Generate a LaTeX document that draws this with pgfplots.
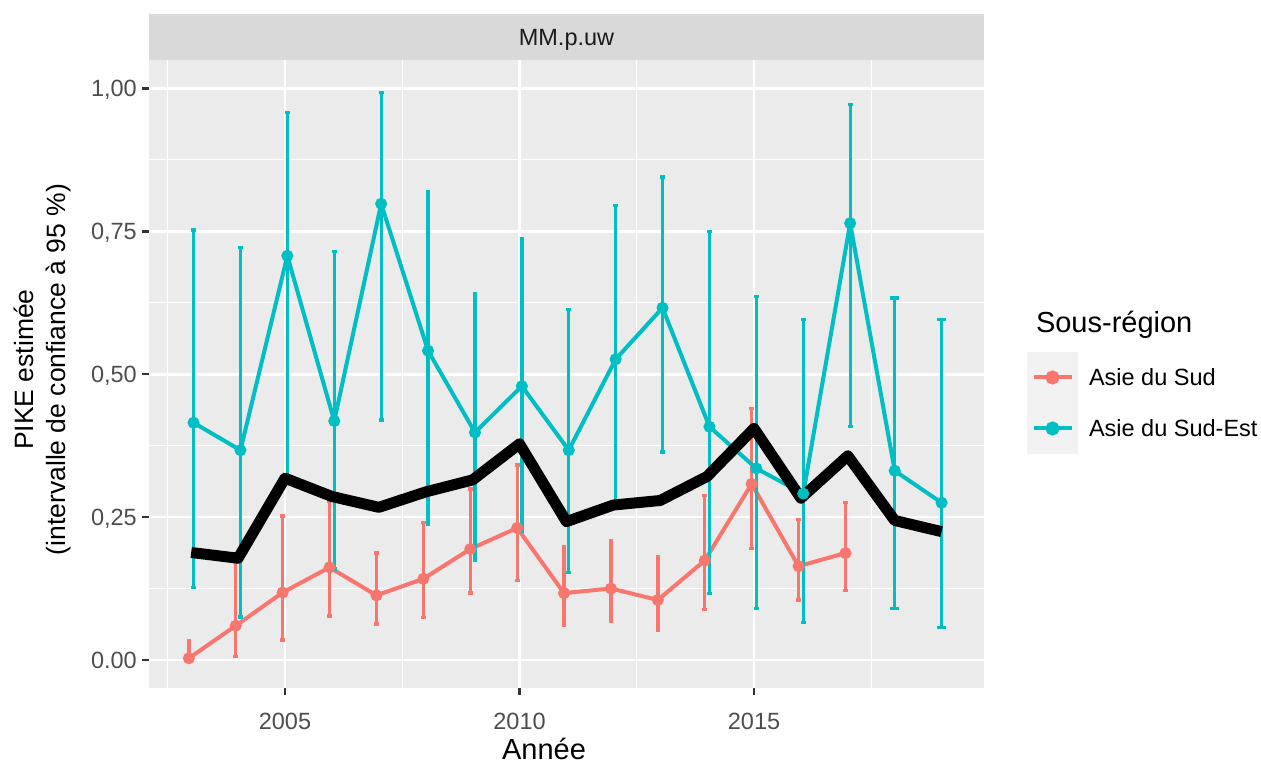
\documentclass[border=0pt]{standalone}
\usepackage{pgfplots}
\pgfplotsset{compat=1.18}
\usepackage{pgfplotstable}
\usepackage{fontspec}
\setmainfont{Liberation Sans}

\definecolor{panelbg}{HTML}{EBEBEB}
\definecolor{stripbg}{HTML}{D9D9D9}
\definecolor{striptext}{HTML}{1A1A1A}
\definecolor{ticklab}{HTML}{4D4D4D}
\definecolor{tickcol}{HTML}{333333}
\definecolor{keybg}{HTML}{F2F2F2}
\definecolor{sudcol}{HTML}{F8766D}
\definecolor{estcol}{HTML}{00BFC4}

% Asie du Sud (dodged -0.05)
\pgfplotstableread{
x y lo hi
2002.95 0.003 0.000 0.033
2003.95 0.060 0.006 0.170
2004.95 0.118 0.035 0.252
2005.95 0.162 0.077 0.278
2006.95 0.113 0.063 0.187
2007.95 0.142 0.074 0.240
2008.95 0.194 0.117 0.299
2009.95 0.231 0.139 0.341
2010.95 0.117 0.061 0.198
2011.95 0.125 0.067 0.209
2012.95 0.105 0.051 0.180
2013.95 0.174 0.088 0.288
2014.95 0.308 0.195 0.440
2015.95 0.164 0.105 0.246
2016.95 0.187 0.122 0.275
}\sud

% Asie du Sud-Est (dodged +0.05 where both series exist)
\pgfplotstableread{
x y lo hi
2003.05 0.415 0.127 0.752
2004.05 0.367 0.075 0.722
2005.05 0.707 0.320 0.958
2006.05 0.418 0.159 0.715
2007.05 0.798 0.420 0.993
2008.05 0.541 0.237 0.820
2009.05 0.398 0.175 0.641
2010.05 0.479 0.225 0.737
2011.05 0.367 0.153 0.613
2012.05 0.526 0.275 0.795
2013.05 0.616 0.364 0.845
2014.05 0.408 0.116 0.750
2015.05 0.335 0.090 0.636
2016.05 0.291 0.066 0.595
2017.05 0.764 0.409 0.972
2018 0.331 0.090 0.633
2019 0.275 0.057 0.596
}\sudest

% Overall PIKE (black line)
\pgfplotstableread{
x y
2003 0.188
2004 0.178
2005 0.318
2006 0.286
2007 0.267
2008 0.294
2009 0.315
2010 0.378
2011 0.242
2012 0.271
2013 0.279
2014 0.321
2015 0.405
2016 0.283
2017 0.357
2018 0.244
2019 0.2245
}\total

\begin{document}
\begin{tikzpicture}
\useasboundingbox (-149pt,-77pt) rectangle (1112pt,688pt);
\begin{axis}[
  at={(0pt,0pt)}, anchor=south west,
  scale only axis, width=835pt, height=628pt,
  xmin=2002.1, xmax=2019.904, ymin=-0.049, ymax=1.0495,
  axis background/.style={fill=panelbg},
  axis x line*=bottom, axis y line*=left,
  axis line style={draw=none},
  xtick={2005,2010,2015}, xticklabels={2005,2010,2015},
  ytick={0,0.25,0.5,0.75,1}, yticklabels={0.00,{0,25},{0,50},{0,75},{1,00}},
  minor xtick={2002.5,2007.5,2012.5,2017.5},
  minor ytick={0.125,0.375,0.625,0.875},
  grid=both,
  major grid style={white, line width=2.8pt},
  minor grid style={white, line width=1.4pt},
  tick align=outside, major tick length=7pt, minor tick length=0pt,
  every tick/.style={tickcol, line width=2.6pt},
  ticklabel style={font=\fontsize{23.5}{28}\selectfont, text=ticklab},
  xticklabel style={anchor=base, inner sep=0pt, yshift=-35pt},
  yticklabel style={anchor=base east, inner sep=0pt, xshift=-5pt, yshift=-8.4pt},
  xlabel={Année},
  xlabel style={at={(axis description cs:0.473,-0.1146)}, anchor=base, inner sep=0pt, font=\fontsize{29}{34}\selectfont},
  ylabel={PIKE estimée\\(intervalle de confiance à 95 \%)},
  ylabel style={at={(axis description cs:-0.127,0.507)}, anchor=center, align=center, inner sep=0pt, font=\fontsize{26.5}{32}\selectfont},
  title={MM.p.uw},
  every axis title shift=0pt,
  title style={at={(axis description cs:0.5,1)}, anchor=south, yshift=0pt, fill=stripbg, minimum width=835pt, minimum height=46pt, inner sep=0pt, outer sep=0pt, text=striptext, text height=16.8pt, text depth=0pt, font=\fontsize{23.5}{28}\selectfont},
  legend style={at={(axis description cs:1.0515,0.3726)}, anchor=south west, draw=none, fill=none, inner sep=0pt, outer sep=0pt, row sep=0pt, column sep=11pt, font=\fontsize{23.5}{28}\selectfont, nodes={inner sep=0pt, anchor=base west}},
  legend cell align=left,
]
\addlegendimage{empty legend}
\addlegendentry{\hspace*{-53pt}\raisebox{18pt}[0pt][0pt]{\fontsize{29}{34}\selectfont Sous-région}}

\addplot[sudcol, line width=4pt, mark=*, mark size=5pt, mark options={solid, line width=2pt, fill=sudcol},
  legend image code/.code={
    \fill[keybg] (0pt,-15.1pt) rectangle (47pt,31.9pt);
    \draw[sudcol, line width=4pt] (4.5pt,8.4pt) -- (42.5pt,8.4pt);
    \fill[sudcol] (23.5pt,8.4pt) circle (5pt);
  },
  error bars/.cd, y dir=both, y explicit,
  error bar style={sudcol, line width=3.3pt, solid},
  error mark options={sudcol, line width=3.3pt, mark size=2.35pt, rotate=90}]
  table[x=x, y=y, y error plus expr=\thisrow{hi}-\thisrow{y}, y error minus expr=\thisrow{y}-\thisrow{lo}] {\sud};
\addlegendentry{Asie du Sud}

\addplot[estcol, only marks, mark=none, forget plot, restrict x to domain=2003:2017.5,
  error bars/.cd, y dir=both, y explicit,
  error bar style={estcol, line width=3.3pt, solid},
  error mark options={estcol, line width=3.3pt, mark size=2.35pt, rotate=90}]
  table[x=x, y=y, y error plus expr=\thisrow{hi}-\thisrow{y}, y error minus expr=\thisrow{y}-\thisrow{lo}] {\sudest};
\addplot[estcol, only marks, mark=none, forget plot, restrict x to domain=2017.8:2019.2,
  error bars/.cd, y dir=both, y explicit,
  error bar style={estcol, line width=3.3pt, solid},
  error mark options={estcol, line width=3.3pt, mark size=4.7pt, rotate=90}]
  table[x=x, y=y, y error plus expr=\thisrow{hi}-\thisrow{y}, y error minus expr=\thisrow{y}-\thisrow{lo}] {\sudest};

\addplot[estcol, line width=4pt, mark=*, mark size=5pt, mark options={solid, line width=2pt, fill=estcol},
  legend image code/.code={
    \fill[keybg] (0pt,-15.1pt) rectangle (47pt,31.9pt);
    \draw[estcol, line width=4pt] (4.5pt,8.4pt) -- (42.5pt,8.4pt);
    \fill[estcol] (23.5pt,8.4pt) circle (5pt);
  }]
  table[x=x, y=y] {\sudest};
\addlegendentry{Asie du Sud-Est}

\addplot[black, line width=11pt, mark=none, line join=round, line cap=butt, forget plot]
  table[x=x, y=y] {\total};
\end{axis}
\end{tikzpicture}
\end{document}
